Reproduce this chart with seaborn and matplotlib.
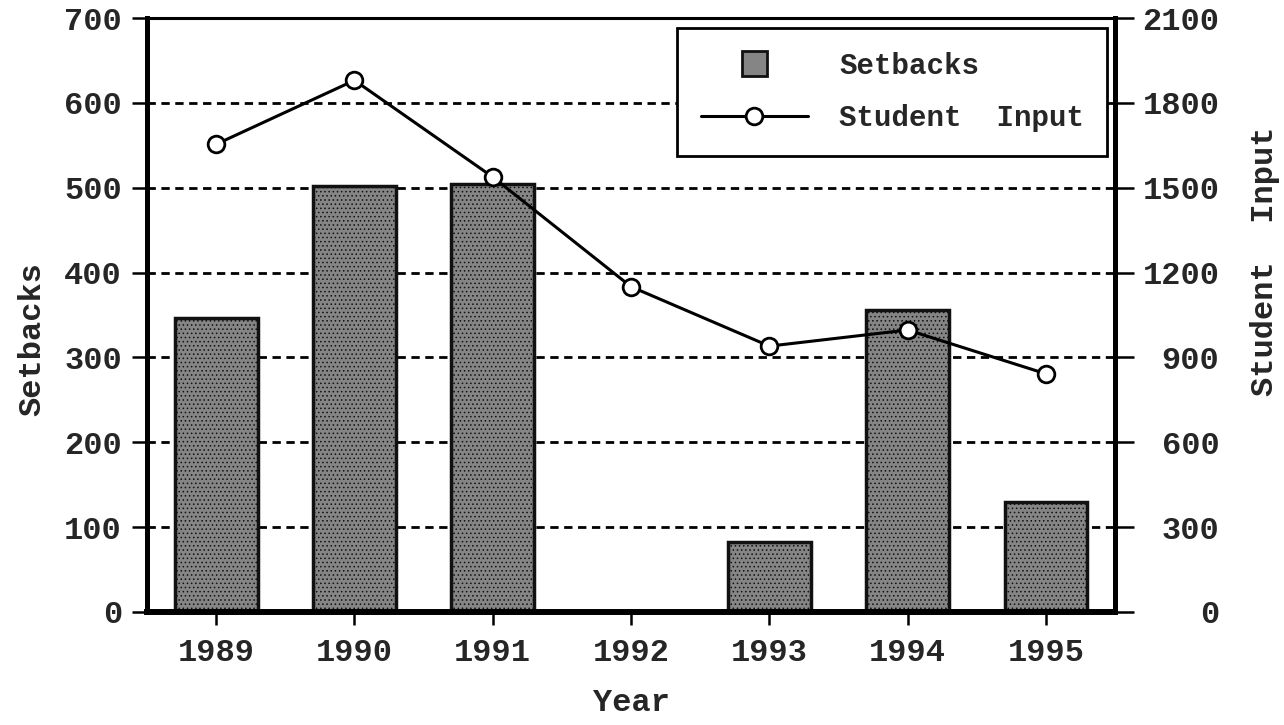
import numpy as np
import matplotlib
matplotlib.use("Agg")
import matplotlib.pyplot as plt
import pandas as pd
import seaborn as sns
from matplotlib.lines import Line2D

# data
years = ["1989", "1990", "1991", "1992", "1993", "1994", "1995"]
setbacks = [346, 502, 505, 0, 82, 356, 130]
student_input = [1654, 1880, 1538, 1150, 940, 997, 842]

df = pd.DataFrame({"Year": years, "Setbacks": setbacks, "Student Input": student_input})

sns.set_theme(style="white")
plt.rcParams["font.family"] = ["Liberation Mono", "DejaVu Sans Mono"]
plt.rcParams["font.weight"] = "bold"
plt.rcParams["hatch.linewidth"] = 0.6

fig = plt.figure(figsize=(12.84, 7.25), dpi=100)
ax = fig.add_axes([0.1145, 0.156, 0.754, 0.819])

sns.barplot(data=df, x="Year", y="Setbacks", ax=ax, width=0.6,
            color="#858585", saturation=1, edgecolor="#111111", linewidth=2.5)
for p in ax.patches:
    p.set_hatch("....")

ax.set_xlim(-0.5, 6.5)
ax.set_ylim(0, 700)
ax.set_yticks(range(0, 701, 100))
ax.set_axisbelow(True)
ax.yaxis.grid(True, color="black", linestyle=(0, (3, 2)), linewidth=2)

ax2 = ax.twinx()
sns.pointplot(data=df, x="Year", y="Student Input", ax=ax2, color="black",
              markers="o", linestyles="-", native_scale=False)
for ln in ax2.lines:
    ln.set_markerfacecolor("white")
    ln.set_markeredgecolor("black")
    ln.set_markersize(12)
    ln.set_markeredgewidth(2)
    ln.set_linewidth(2.2)
ax2.set_ylim(0, 2100)
ax2.set_yticks(range(0, 2101, 300))
ax2.set_xlim(-0.5, 6.5)

fs = 23
for a in (ax, ax2):
    for s in a.spines.values():
        s.set_color("black")
        s.set_visible(True)
ax.spines["left"].set_linewidth(3.6)
ax.spines["bottom"].set_linewidth(4.3)
ax.spines["top"].set_linewidth(2.2)
ax.spines["right"].set_linewidth(3.6)
ax2.spines["right"].set_linewidth(3.6)
ax2.spines["left"].set_visible(False)
ax2.spines["bottom"].set_visible(False)
ax2.spines["top"].set_visible(False)

ax.tick_params(axis="y", direction="out", length=11, width=1.8, pad=7,
               labelsize=fs, left=True, color="black")
ax.tick_params(axis="x", direction="out", length=9, width=1.8, pad=10,
               labelsize=fs, bottom=True, color="black")
ax2.tick_params(axis="y", direction="out", length=14, width=1.8, pad=61,
                labelsize=fs, right=True, color="black")
for t in ax2.get_yticklabels():
    t.set_horizontalalignment("right")

ax.set_xlabel("Year", fontsize=fs, fontweight="bold", labelpad=14)
ax.set_ylabel("Setbacks", fontsize=fs, fontweight="bold")
ax.yaxis.set_label_coords(-0.103, 0.46)
ax2.set_ylabel("Student  Input", fontsize=fs, fontweight="bold", rotation=90)
ax2.yaxis.set_label_coords(1.139, 0.59)

handles = [
    Line2D([], [], marker="s", markersize=18, linestyle="none",
           markerfacecolor="#858585", markeredgecolor="#111111", markeredgewidth=2),
    Line2D([], [], marker="o", markersize=12, color="black", linewidth=2.2,
           markerfacecolor="white", markeredgewidth=2),
]
leg = ax2.legend(handles, ["Setbacks", "Student  Input"], loc="upper right",
                 bbox_to_anchor=(0.992, 0.983), fontsize=fs - 2, frameon=True,
                 fancybox=False, handlelength=3.7, handletextpad=1.05,
                 borderpad=0.8, labelspacing=0.85, borderaxespad=0)
leg.get_frame().set_edgecolor("black")
leg.get_frame().set_linewidth(2)
leg.get_frame().set_alpha(1)

fig.savefig("out.png", dpi=100)
